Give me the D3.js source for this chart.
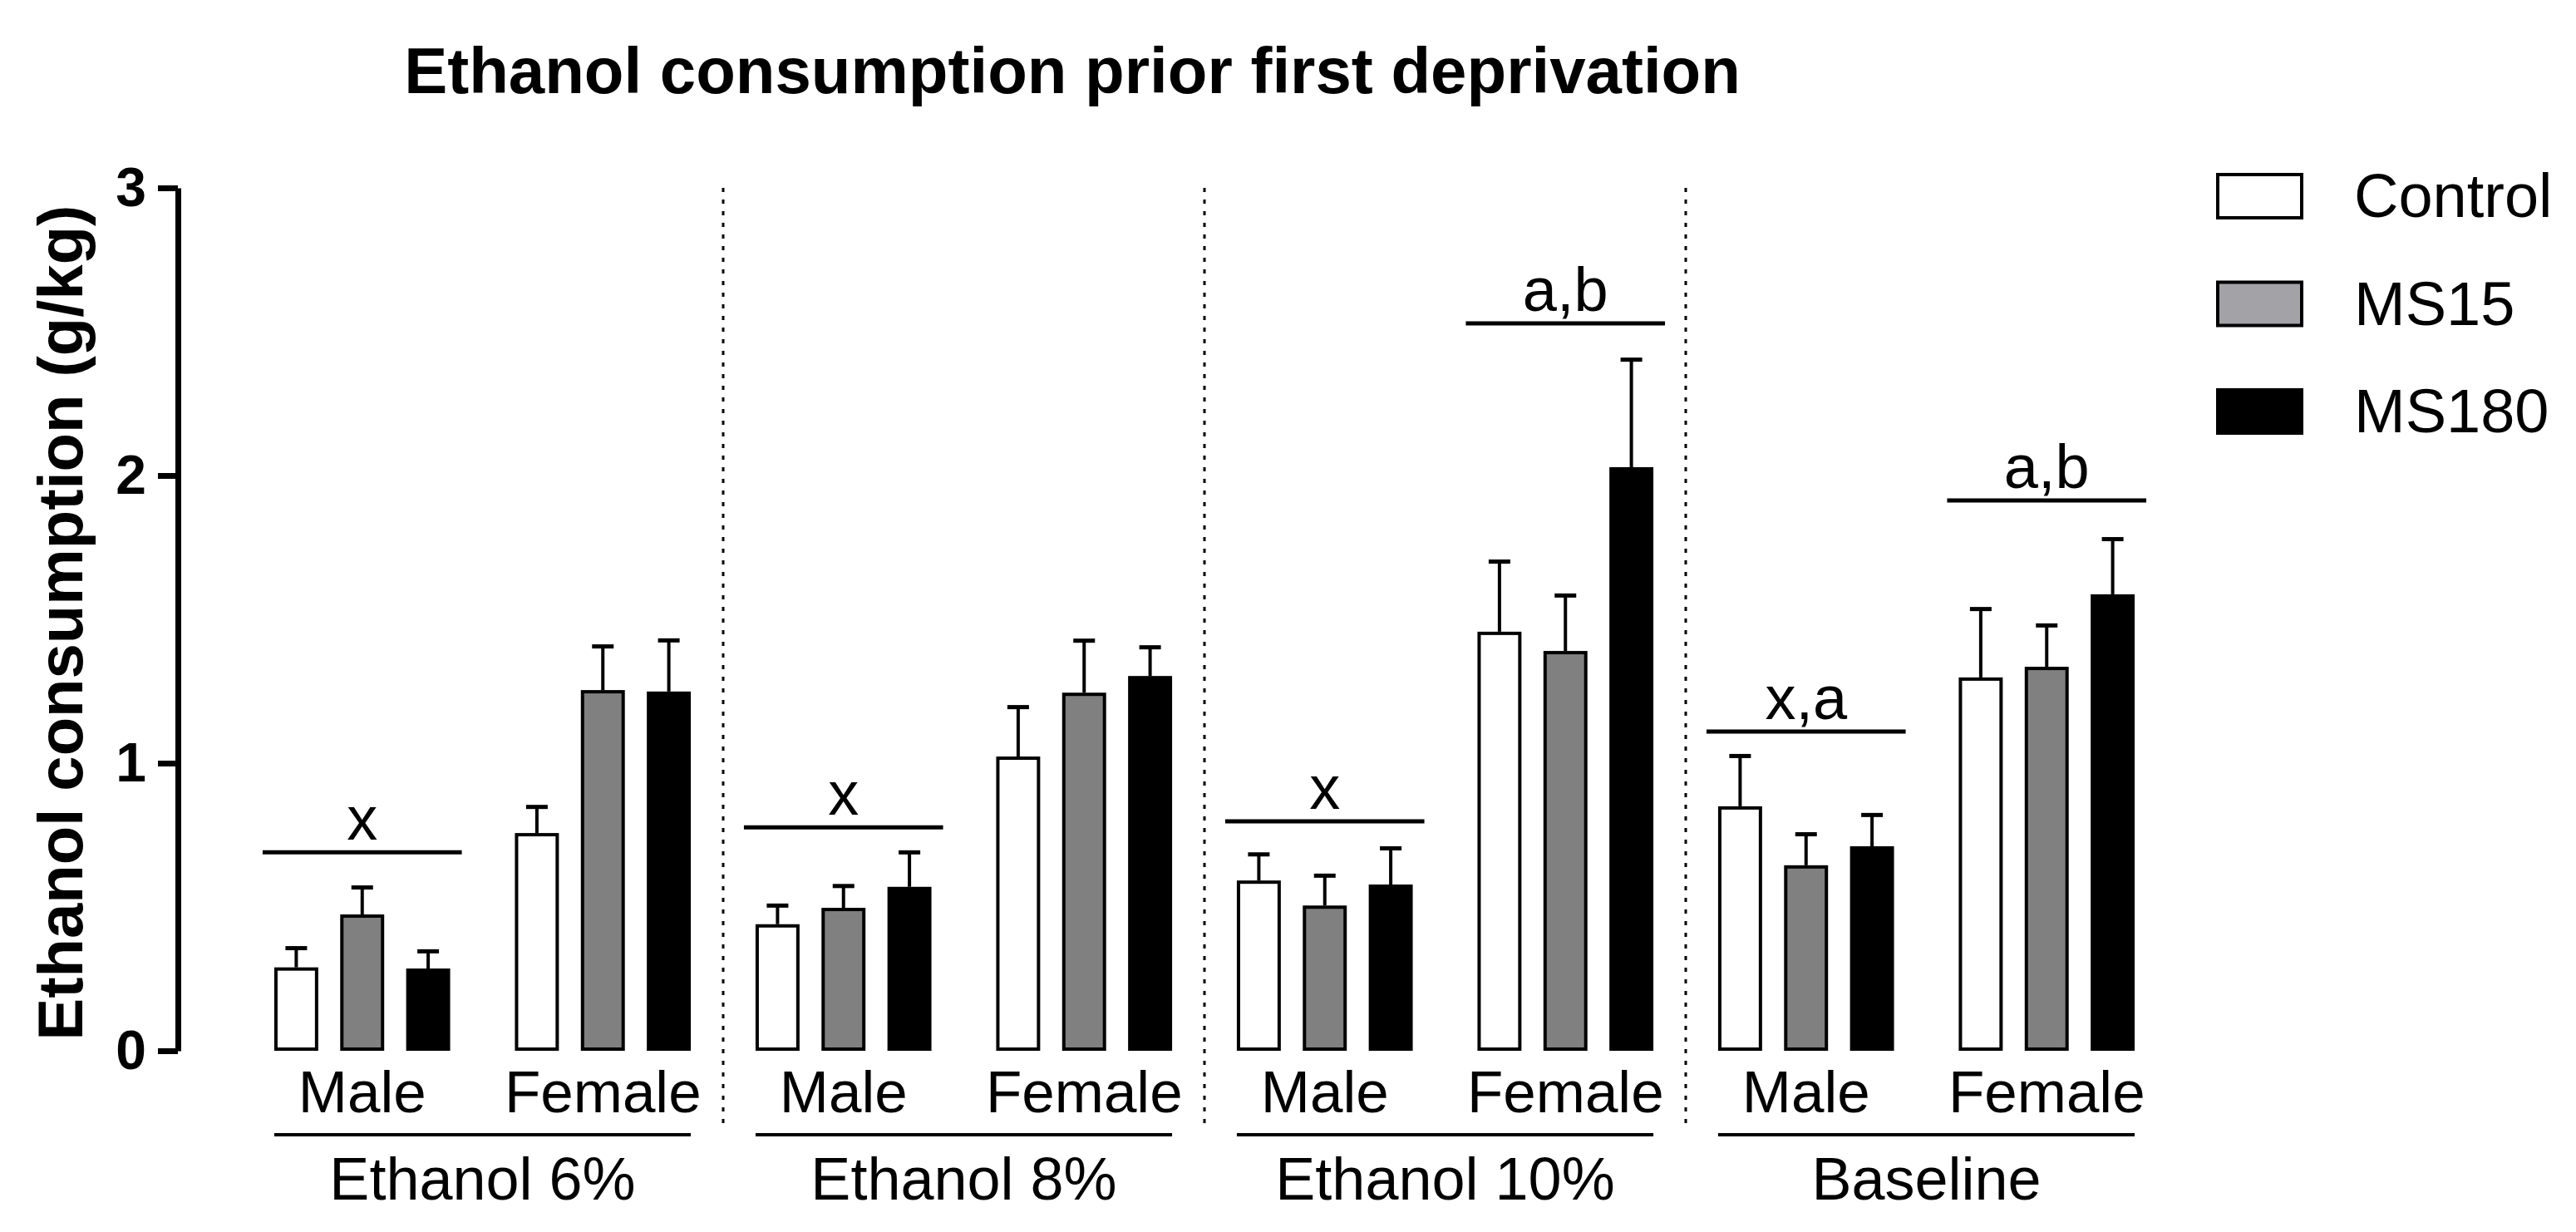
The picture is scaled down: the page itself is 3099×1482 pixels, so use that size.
<!DOCTYPE html>
<html>
<head>
<meta charset="utf-8">
<script src="https://cdn.jsdelivr.net/npm/d3@7/dist/d3.min.js"></script>
<style>
  body { margin: 0; background: #fff; }
  svg { display: block; font-family: "Liberation Sans", Arial, sans-serif; }
</style>
</head>
<body>
<div id="chart"></div>
<script>
// categories
var sections = ["Ethanol 6%", "Ethanol 8%", "Ethanol 10%", "Baseline"];
var sexes = ["Male", "Female"];
var groups = ["Control", "MS15", "MS180"];

// means, order: 6% M, 6% F, 8% M, 8% F, 10% M, 10% F, Baseline M, Baseline F
var controlMean = [0.29, 0.757, 0.44, 1.023, 0.592, 1.457, 0.85, 1.298];
var ms15Mean    = [0.474, 1.254, 0.497, 1.245, 0.505, 1.39, 0.645, 1.335];
var ms180Mean   = [0.286, 1.249, 0.57, 1.303, 0.578, 2.029, 0.711, 1.587];
// SEM
var controlSem = [0.074, 0.098, 0.072, 0.179, 0.098, 0.251, 0.182, 0.245];
var ms15Sem    = [0.101, 0.159, 0.083, 0.188, 0.111, 0.2, 0.115, 0.151];
var ms180Sem   = [0.067, 0.185, 0.127, 0.107, 0.133, 0.381, 0.116, 0.199];

// significance marks
var markSection = ["Ethanol 6%", "Ethanol 8%", "Ethanol 10%", "Ethanol 10%", "Baseline", "Baseline"];
var markSex     = ["Male", "Male", "Male", "Female", "Male", "Female"];
var markText    = ["x", "x", "x", "a,b", "x,a", "a,b"];
var markLevel   = [0.69, 0.777, 0.798, 2.529, 1.11, 1.913];

var yTicks = [0, 1, 2, 3];

var fills = ["#ffffff", "#808080", "#000000"];
var legendFills = ["#ffffff", "#a3a3a7", "#000000"];

var means = [controlMean, ms15Mean, ms180Mean];
var sems = [controlSem, ms15Sem, ms180Sem];

// build bar rows
var bars = [];
sections.forEach(function (s, si) {
    sexes.forEach(function (sx, xi) {
        var k = si * 2 + xi;
        groups.forEach(function (g, gi) {
            bars.push({ section: s, sex: sx, group: g, gi: gi, mean: means[gi][k], sem: sems[gi][k] });
        });
    });
});

var W = 3099, H = 1482;

var svg = d3.select("#chart").append("svg")
    .attr("width", W)
    .attr("height", H);

var y = d3.scaleLinear().domain([0, 3]).range([1264, 226]);

var xSection = d3.scaleBand().domain(sections).range([291, 291 + 4 * 579]);
var xSex = d3.scaleBand().domain(sexes).range([0, xSection.bandwidth()])
    .paddingInner(0.269).paddingOuter(0.1345);
var xGroup = d3.scaleBand().domain(groups).range([0, xSex.bandwidth()])
    .paddingInner(0.333).paddingOuter(0);

function groupLeft(s, sx) { return xSection(s) + xSex(sx); }

// title
svg.append("text")
    .attr("x", 1290)
    .attr("y", 112)
    .attr("text-anchor", "middle")
    .attr("font-size", 78)
    .attr("font-weight", "bold")
    .text("Ethanol consumption prior first deprivation");

// y axis
var yAxis = svg.append("g")
    .attr("transform", "translate(214,0)")
    .call(d3.axisLeft(y).tickValues(yTicks).tickFormat(d3.format("d"))
        .tickSize(24).tickSizeOuter(0).tickPadding(14));
yAxis.select(".domain").attr("stroke-width", 7).attr("stroke", "#000");
yAxis.selectAll(".tick line").attr("stroke-width", 7).attr("stroke", "#000");
yAxis.selectAll(".tick text")
    .attr("font-size", 66)
    .attr("font-weight", "bold")
    .attr("font-family", "'Liberation Sans', Arial, sans-serif")
    .attr("fill", "#000");

svg.append("text")
    .attr("transform", "translate(99," + ((y(0) + y(3)) / 2 + 4) + ") rotate(-90)")
    .attr("text-anchor", "middle")
    .attr("font-size", 76)
    .attr("font-weight", "bold")
    .text("Ethanol consumption (g/kg)");

// dotted separators between sections
svg.selectAll(".sep")
    .data(sections.slice(1))
    .enter().append("line")
    .attr("class", "sep")
    .attr("x1", function (d) { return xSection(d); })
    .attr("x2", function (d) { return xSection(d); })
    .attr("y1", y(3))
    .attr("y2", 1358)
    .attr("stroke", "#000")
    .attr("stroke-width", 3)
    .attr("stroke-dasharray", "5,9");

// bars
var sw = 4;
var bw = xGroup.bandwidth();
svg.selectAll(".bar")
    .data(bars)
    .enter().append("rect")
    .attr("class", "bar")
    .attr("x", function (d) { return groupLeft(d.section, d.sex) + xGroup(d.group) + sw / 2; })
    .attr("y", function (d) { return y(d.mean) + sw / 2; })
    .attr("width", bw - sw)
    .attr("height", function (d) { return y(0) - y(d.mean) - sw; })
    .attr("fill", function (d) { return fills[d.gi]; })
    .attr("stroke", "#000")
    .attr("stroke-width", sw);

// error bars (upper only)
var err = svg.selectAll(".err")
    .data(bars)
    .enter().append("g")
    .attr("class", "err");
err.append("line")
    .attr("x1", function (d) { return groupLeft(d.section, d.sex) + xGroup(d.group) + bw / 2; })
    .attr("x2", function (d) { return groupLeft(d.section, d.sex) + xGroup(d.group) + bw / 2; })
    .attr("y1", function (d) { return y(d.mean); })
    .attr("y2", function (d) { return y(d.mean + d.sem) + 2; })
    .attr("stroke", "#000")
    .attr("stroke-width", 4);
err.append("line")
    .attr("x1", function (d) { return groupLeft(d.section, d.sex) + xGroup(d.group) + bw / 2 - 13; })
    .attr("x2", function (d) { return groupLeft(d.section, d.sex) + xGroup(d.group) + bw / 2 + 13; })
    .attr("y1", function (d) { return y(d.mean + d.sem) + 2.5; })
    .attr("y2", function (d) { return y(d.mean + d.sem) + 2.5; })
    .attr("stroke", "#000")
    .attr("stroke-width", 5);

// sex labels
var sexLabels = [];
sections.forEach(function (s) { sexes.forEach(function (sx) { sexLabels.push({ s: s, sx: sx }); }); });
svg.selectAll(".sexlab")
    .data(sexLabels)
    .enter().append("text")
    .attr("class", "sexlab")
    .attr("x", function (d) { return groupLeft(d.s, d.sx) + xSex.bandwidth() / 2; })
    .attr("y", 1338)
    .attr("text-anchor", "middle")
    .attr("font-size", 71)
    .text(function (d) { return d.sx; });

// section underline and labels
svg.selectAll(".secline")
    .data(sections)
    .enter().append("line")
    .attr("class", "secline")
    .attr("x1", function (d) { return groupLeft(d, "Male"); })
    .attr("x2", function (d) { return groupLeft(d, "Female") + xSex.bandwidth(); })
    .attr("y1", 1365)
    .attr("y2", 1365)
    .attr("stroke", "#000")
    .attr("stroke-width", 4);

svg.selectAll(".seclab")
    .data(sections)
    .enter().append("text")
    .attr("class", "seclab")
    .attr("x", function (d) { return xSection(d) + xSection.bandwidth() / 2; })
    .attr("y", 1443)
    .attr("text-anchor", "middle")
    .attr("font-size", 72)
    .text(function (d) { return d; });

// significance marks
var marks = markText.map(function (t, i) {
    return { s: markSection[i], sx: markSex[i], t: t, v: markLevel[i] };
});
svg.selectAll(".mline")
    .data(marks)
    .enter().append("line")
    .attr("class", "mline")
    .attr("x1", function (d) { return groupLeft(d.s, d.sx) - 14; })
    .attr("x2", function (d) { return groupLeft(d.s, d.sx) + xSex.bandwidth() + 14; })
    .attr("y1", function (d) { return y(d.v); })
    .attr("y2", function (d) { return y(d.v); })
    .attr("stroke", "#000")
    .attr("stroke-width", 5);
svg.selectAll(".mtext")
    .data(marks)
    .enter().append("text")
    .attr("class", "mtext")
    .attr("x", function (d) { return groupLeft(d.s, d.sx) + xSex.bandwidth() / 2; })
    .attr("y", function (d) { return y(d.v) - 15; })
    .attr("text-anchor", "middle")
    .attr("font-size", 74)
    .text(function (d) { return d.t; });

// legend
var legend = svg.selectAll(".leg")
    .data(groups)
    .enter().append("g")
    .attr("class", "leg")
    .attr("transform", function (d, i) { return "translate(2666," + (208 + i * 129.5) + ")"; });
legend.append("rect")
    .attr("x", 2)
    .attr("y", 2)
    .attr("width", 101)
    .attr("height", 52)
    .attr("fill", function (d, i) { return legendFills[i]; })
    .attr("stroke", "#000")
    .attr("stroke-width", 4);
legend.append("text")
    .attr("x", 166)
    .attr("y", 53)
    .attr("font-size", 74)
    .text(function (d) { return d; });
</script>
</body>
</html>
